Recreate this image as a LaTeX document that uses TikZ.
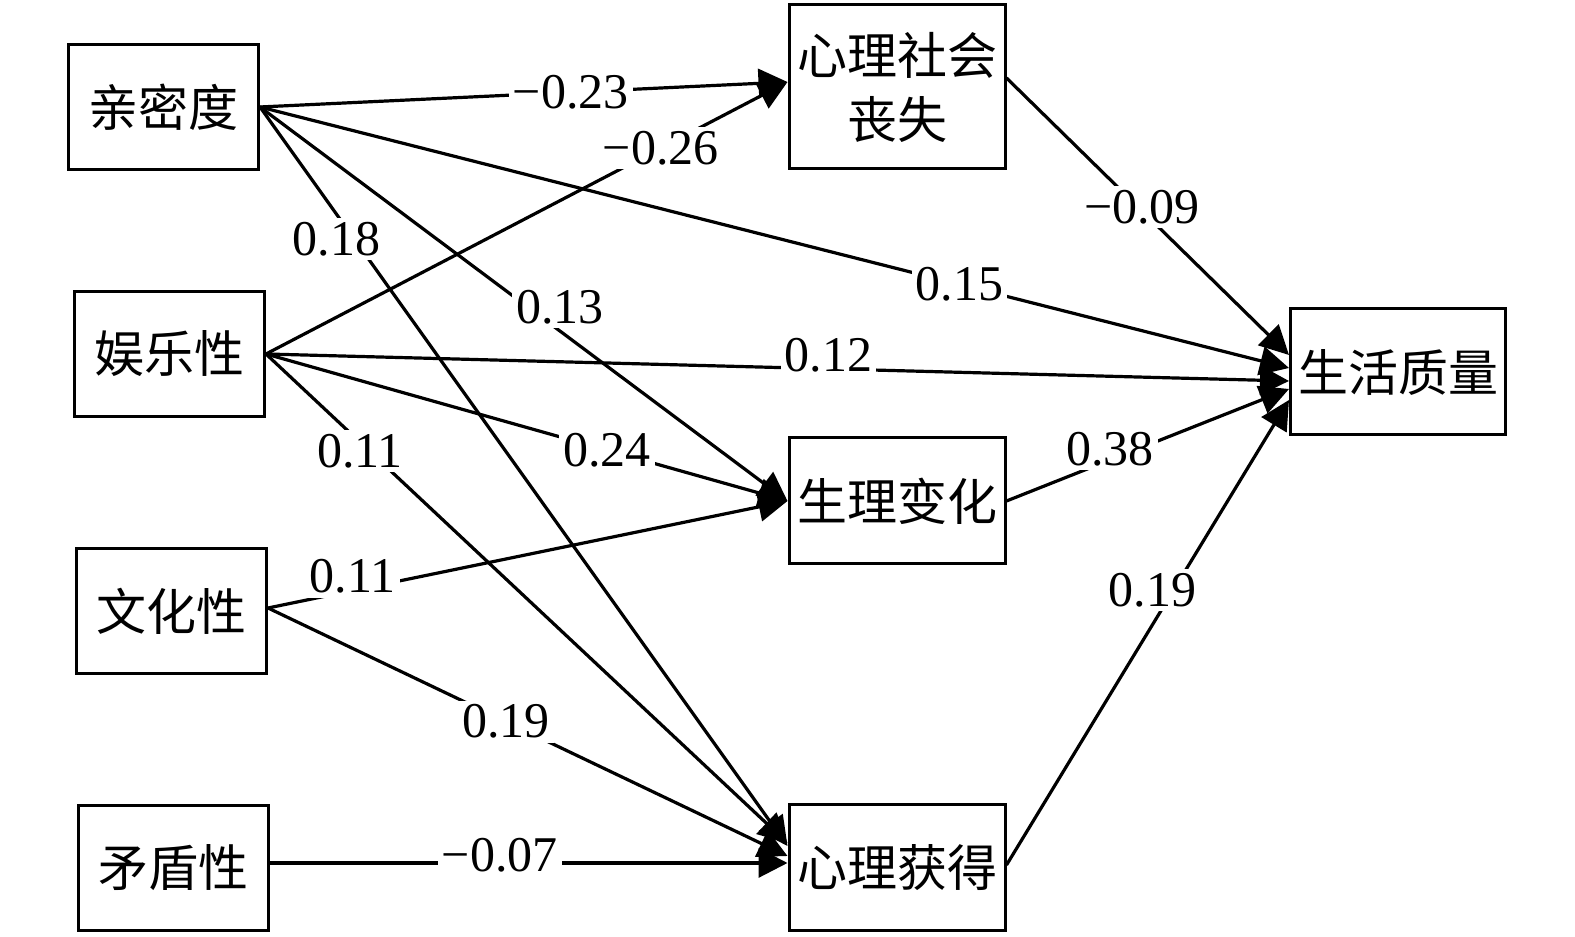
\documentclass[tikz,border=0pt]{standalone}
\usepackage{fontspec}
\setmainfont{Liberation Serif}
\newfontfamily\cjkf{Noto Sans CJK SC}
\usetikzlibrary{arrows.meta}
\begin{document}
\begin{tikzpicture}[x=1pt,y=1pt,
  box/.style={draw, line width=3pt, inner sep=0pt, align=center,
    font=\cjkf\fontsize{50}{64}\selectfont},
  lbox/.style={box, minimum width=190pt, minimum height=125pt},
  rbox/.style={box, minimum width=216pt, minimum height=126pt},
  conn/.style={line width=3.2pt, -{Triangle[length=29pt,width=29pt]}},
  lab/.style={fill=white, inner sep=4pt, font=\fontsize{50}{60}\selectfont}]
\useasboundingbox (0,0) rectangle (1575,937);
\node[lbox] (qin) at (163.5,830) {亲密度};
\node[lbox] (yule) at (169.5,583) {娱乐性};
\node[lbox] (wenhua) at (171.5,326) {文化性};
\node[lbox] (maodun) at (173.5,69) {矛盾性};
\node[rbox, minimum height=164pt] (loss) at (897,850) {心理社会\\丧失};
\node[rbox] (phys) at (897,436) {生理变化};
\node[rbox] (gain) at (897,69) {心理获得};
\node[rbox, minimum width=215pt] (qol) at (1398,565) {生活质量};
% connectors
\draw[conn] (qin.east) -- ([yshift=5pt]loss.west);
\draw[conn] (yule.east) -- ([yshift=5pt]loss.west);
\draw[conn] (qin.east) -- ([yshift=22pt]gain.west);
\draw[conn] (qin.east) -- (phys.west);
\draw[conn] (qin.east) -- ([yshift=4pt]qol.west);
\draw[conn] (yule.east) -- ([yshift=-9pt]qol.west);
\draw[conn] (yule.east) -- ([yshift=25pt]gain.west);
\draw[conn] (yule.east) -- (phys.west);
\draw[conn] ([yshift=3pt]wenhua.east) -- (phys.west);
\draw[conn] ([yshift=3pt]wenhua.east) -- ([yshift=12pt]gain.west);
\draw[conn] ([yshift=5pt]maodun.east) -- ([yshift=5pt]gain.west);
\draw[conn] ([yshift=9pt]loss.east) -- ([yshift=17pt]qol.west);
\draw[conn] (phys.east) -- ([yshift=-17pt]qol.west);
\draw[conn] ([yshift=3pt]gain.east) -- ([yshift=-28pt]qol.west);
% labels
\path (qin.east) -- ([yshift=5pt]loss.west) node[lab, pos=.589] (l1) {−0.23};
\path (yule.east) -- ([yshift=5pt]loss.west) node[lab, pos=.757] (l2) {−0.26};
\path (qin.east) -- ([yshift=22pt]gain.west) node[lab, pos=.145, yshift=-25pt] (l3) {0.18};
\path (qin.east) -- (phys.west) node[lab, pos=.569, yshift=24pt] (l4) {0.13};
\path (qin.east) -- ([yshift=4pt]qol.west) node[lab, pos=.68] (l5) {0.15};
\path (yule.east) -- ([yshift=-9pt]qol.west) node[lab, pos=.55, yshift=14pt] (l6) {0.12};
\path (yule.east) -- ([yshift=25pt]gain.west) node[lab, pos=.18, yshift=-9pt] (l7) {0.11};
\path (yule.east) -- (phys.west) node[lab, pos=.654] (l8) {0.24};
\path ([yshift=3pt]wenhua.east) -- (phys.west) node[lab, pos=.163, yshift=14pt] (l9) {0.11};
\path ([yshift=3pt]wenhua.east) -- ([yshift=12pt]gain.west) node[lab, pos=.458] (l10) {0.19};
\path ([yshift=5pt]maodun.east) -- ([yshift=5pt]gain.west) node[lab, pos=.444, yshift=8pt] (l11) {−0.07};
\path ([yshift=9pt]loss.east) -- ([yshift=17pt]qol.west) node[lab, pos=.48, yshift=4pt] (l12) {−0.09};
\path (phys.east) -- ([yshift=-17pt]qol.west) node[lab, pos=.366, yshift=11pt] (l13) {0.38};
\path ([yshift=3pt]gain.east) -- ([yshift=-28pt]qol.west) node[lab, pos=.591, xshift=-21pt] (l14) {0.19};
\end{tikzpicture}
\end{document}
